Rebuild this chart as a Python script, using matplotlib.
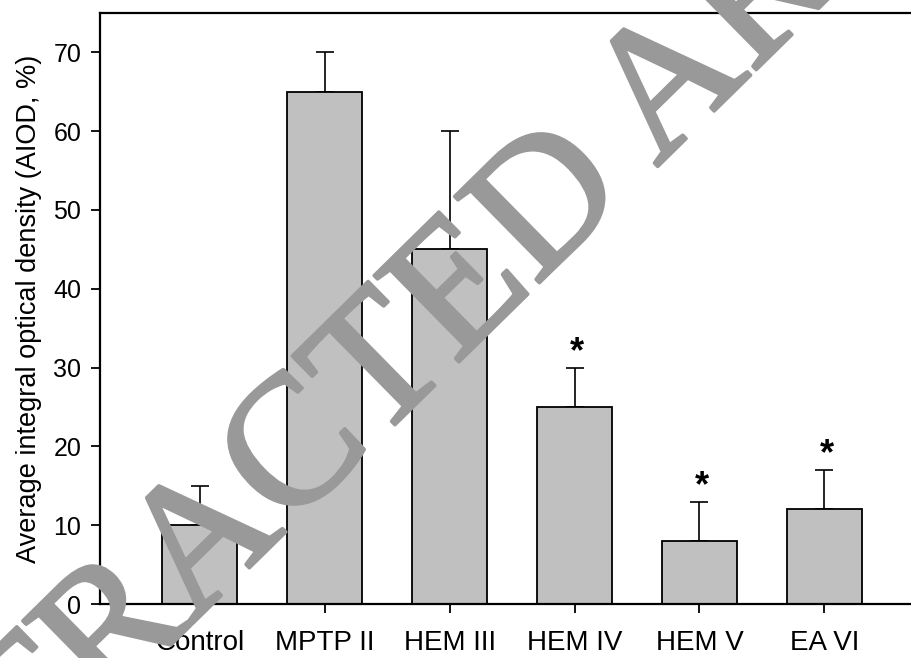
import matplotlib
matplotlib.use('Agg')
import numpy as np
import matplotlib.pyplot as plt
import matplotlib.patheffects as pe

groups = ['Control', 'MPTP II', 'HEM III', 'HEM IV', 'HEM V', 'EA VI']
aiod = [10, 65, 45, 25, 8, 12]
sd = [5, 5, 15, 5, 5, 5]
signif = [False, False, False, True, True, True]

plt.rcParams['font.family'] = ['Liberation Sans', 'DejaVu Sans']

fig = plt.figure(figsize=(9.12, 6.58), dpi=100)
ax = fig.add_axes([100/912, 1-604/658, 818/912, 591/658])

x = np.arange(len(groups))
ax.bar(x, aiod, width=0.6, color='#c0c0c0', edgecolor='black', linewidth=1.3, zorder=2)
ax.errorbar(x, aiod, yerr=[np.zeros(len(sd)), sd], fmt='none', ecolor='black',
            elinewidth=1.2, capsize=6.5, capthick=1.2, zorder=1)

for xi, v, e, s in zip(x, aiod, sd, signif):
    if s:
        ax.text(xi + 0.02, v + e - 0.3, '*', ha='center', va='bottom',
                fontsize=26, fontweight='bold')

ax.set_xlim(-0.8, 5.75)
ax.set_ylim(0, 75)
ax.set_yticks(range(0, 80, 10))
ax.set_xticks(x)
ax.set_xticklabels(groups, fontsize=20)
ax.tick_params(axis='x', length=6.5, width=1.3, pad=12)
ax.tick_params(axis='y', length=6.5, width=1.3, pad=7, labelsize=18)
ax.set_ylabel('Average integral optical density (AIOD, %)', fontsize=19.5, labelpad=8)
for sp in ax.spines.values():
    sp.set_linewidth(1.6)

# retraction watermark
fig.text(530/912, 1-292/658, 'RETRACTED ARTICLE', family='Liberation Serif',
         fontsize=133, color='#999999', rotation=44.5,
         rotation_mode='anchor', ha='center', va='baseline', zorder=10,
         path_effects=[pe.withStroke(linewidth=2.5, foreground='#999999')])

fig.savefig('out.png', dpi=100)
